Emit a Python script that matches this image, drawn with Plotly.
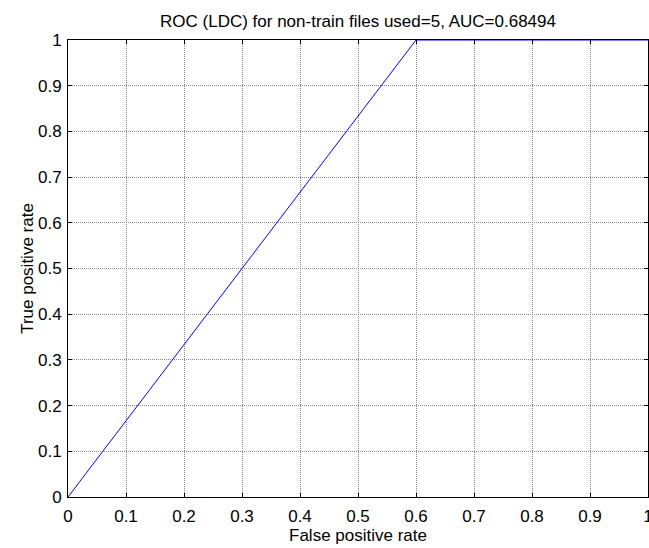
import plotly.graph_objects as go

# ROC curve points for the LDC classifier
fpr = [0.0, 0.6, 1.0]
tpr = [0.0, 1.0, 1.0]
auc_text = "0.68494"
files_used = 5

tick_vals = [0, 0.1, 0.2, 0.3, 0.4, 0.5, 0.6, 0.7, 0.8, 0.9, 1]
tick_text = ["0", "0.1", "0.2", "0.3", "0.4", "0.5", "0.6", "0.7", "0.8", "0.9", "1"]

FONT = "Liberation Sans, Arial"
FS = 17

fig = go.Figure()
fig.add_trace(go.Scatter(
    x=fpr, y=tpr, mode="lines",
    line=dict(color="#0000ff", width=1),
    showlegend=False, cliponaxis=False,
))

axis_style = dict(
    range=[0, 1],
    tickmode="array",
    tickvals=tick_vals,
    ticktext=tick_text,
    showgrid=True,
    gridcolor="#8a8a8a",
    griddash="1px,1px",
    gridwidth=1,
    showline=True,
    linecolor="black",
    linewidth=1,
    mirror="allticks",
    ticks="inside",
    ticklen=4,
    tickcolor="black",
    zeroline=False,
    automargin=False,
    ticklabeloverflow="allow",
    tickfont=dict(family=FONT, size=FS, color="black"),
)

fig.update_layout(
    width=649,
    height=548,
    margin=dict(l=68, r=1, t=40, b=51),
    paper_bgcolor="white",
    plot_bgcolor="white",
    title=dict(
        text=f"ROC (LDC) for non-train files used={files_used}, AUC={auc_text}",
        xref="paper", x=0.5, xanchor="center", y=0.962, yanchor="middle",
        font=dict(family=FONT, size=FS, color="black"),
    ),
    xaxis=dict(axis_style, ticklabelstandoff=4,
               title=dict(text="False positive rate", standoff=2,
                          font=dict(family=FONT, size=FS, color="black"))),
    yaxis=dict(axis_style, ticklabelstandoff=2,
               title=dict(text="True positive rate", standoff=0,
                          font=dict(family=FONT, size=FS, color="black"))),
)

fig.write_html("out.html")
